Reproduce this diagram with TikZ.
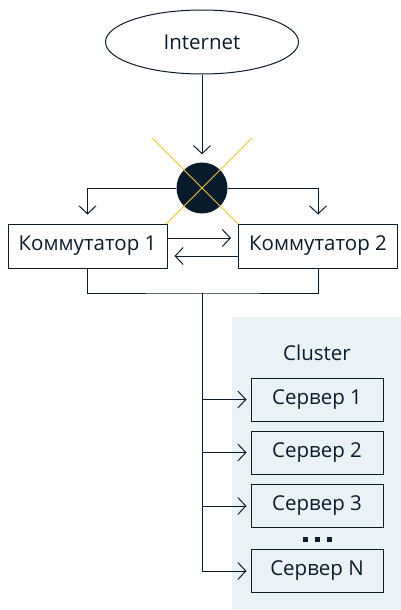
\documentclass[tikz,border=0pt]{standalone}
\usepackage{fontspec}
\setmainfont{Open Sans}
\usetikzlibrary{arrows.meta,shapes.geometric,calc}
\definecolor{ink}{HTML}{0B1C2C}
\definecolor{hubfill}{HTML}{071B2C}
\definecolor{cross}{HTML}{F5C518}
\definecolor{clusterbg}{HTML}{EBF2F6}
\tikzset{
  every node/.style={text=ink, font=\fontsize{20.5}{24}\selectfont},
  wire/.style={draw=ink, line width=1pt},
  arr/.style={wire, -{Straight Barb[length=8pt,width=17pt,line width=1pt]}},
  switchbox/.style={draw=ink, line width=1pt, fill=white, minimum width=159pt, minimum height=44pt, inner sep=0pt},
  serverbox/.style={draw=ink, line width=1pt, minimum width=132pt, minimum height=43pt, inner sep=0pt},
}
\begin{document}
\begin{tikzpicture}[x=1pt,y=-1pt]
\useasboundingbox (0,0) rectangle (401,610);

% cluster background
\fill[clusterbg] (232,317) rectangle (401,609);
\node (clusterlabel) at (317,353) {Cluster};

% internet and hub
\node[draw=ink, line width=1pt, ellipse, minimum width=193pt, minimum height=64pt, inner sep=0pt] (inet) at (202,42) {Internet};
\node[circle, fill=hubfill, minimum size=51pt, inner sep=0pt] (hub) at (202,188) {};
\draw[cross, line width=1pt] ($(hub)+(-50,-50)$) -- ($(hub)+(50,50)$);
\draw[cross, line width=1pt] ($(hub)+(50,-50)$) -- ($(hub)+(-50,50)$);

% switches
\node[switchbox] (k1) at (87.5,246) {Коммутатор 1};
\node[switchbox] (k2) at (318,246) {Коммутатор 2};

% servers
\node[serverbox] (s1) at (317,399.5) {Сервер 1};
\node[serverbox] (s2) at (317,452.5) {Сервер 2};
\node[serverbox] (s3) at (317,506) {Сервер 3};
\node[serverbox] (sN) at (317,571) {Сервер N};
\foreach \dx in {-12,0,12}
  \fill[ink] ($(s3.south)+(\dx-2.5,8.5)$) rectangle ++(5,5);

% connectors
\draw[arr, shorten >=8pt] (inet.south) -- (hub.north);
\draw[arr, shorten >=9pt] (hub.west) -| (k1.north);
\draw[arr, shorten >=9pt] (hub.east) -| (k2.north);
\draw[arr, shorten >=7pt] ($(k1.east)+(0,-8)$) -- ($(k2.west)+(0,-8)$);
\draw[arr, shorten >=7pt] ($(k2.west)+(0,10)$) -- ($(k1.east)+(0,10)$);

\coordinate (joint) at (202,293);
\draw[wire] (k1.south) |- (joint) -| (k2.south);
\draw[arr, shorten >=4pt] (joint) |- (sN.west);
\draw[arr, shorten >=4pt] (joint |- s1.west) -- (s1.west);
\draw[arr, shorten >=4pt] (joint |- s2.west) -- (s2.west);
\draw[arr, shorten >=4pt] (joint |- s3.west) -- (s3.west);
\end{tikzpicture}
\end{document}
